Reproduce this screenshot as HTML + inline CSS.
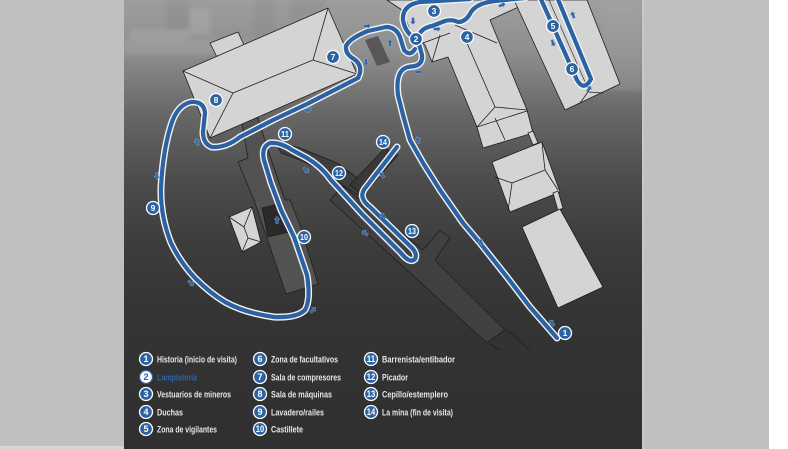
<!DOCTYPE html>
<html><head><meta charset="utf-8">
<style>
html,body{margin:0;padding:0;width:788px;height:449px;overflow:hidden;background:#fff}
svg{display:block}
</style></head><body>
<svg width="788" height="449" viewBox="0 0 788 449" xmlns="http://www.w3.org/2000/svg" font-family="'Liberation Sans', Arial, sans-serif">
<defs>
<linearGradient id="bg" x1="0" y1="0" x2="0" y2="1">
 <stop offset="0" stop-color="#9e9e9e"/>
 <stop offset="0.12" stop-color="#8d8d8d"/>
 <stop offset="0.25" stop-color="#686868"/>
 <stop offset="0.4" stop-color="#4c4c4c"/>
 <stop offset="0.55" stop-color="#3c3c3c"/>
 <stop offset="0.7" stop-color="#343434"/>
 <stop offset="1" stop-color="#2f2f2f"/>
</linearGradient>
<filter id="bl" x="-20%" y="-20%" width="140%" height="140%"><feGaussianBlur stdDeviation="2.5"/></filter>
<clipPath id="pc"><rect x="124" y="0" width="518" height="449"/></clipPath>
<g id="ar"><path d="M-3.4,-1.3 L0.6,-1.3 L0.6,-2.8 L3.6,0 L0.6,2.8 L0.6,1.3 L-3.4,1.3Z" fill="#2e67ab" stroke="#9fb6d2" stroke-width="0.4"/></g>
</defs>
<rect width="788" height="449" fill="#fff"/>
<rect width="769" height="449" fill="#c0c0c0"/>
<rect x="0" y="446" width="124" height="3" fill="#d6d6d6"/>
<rect x="124" y="0" width="518" height="449" fill="url(#bg)"/>
<rect x="642" y="0" width="2" height="449" fill="#c8c8c8"/>

<!-- photo hints -->
<g clip-path="url(#pc)" filter="url(#bl)">
<rect x="124" y="40" width="150" height="14" fill="#b0b0b0" opacity="0.35"/>
<rect x="165" y="0" width="25" height="30" fill="#7a7a7a" opacity="0.25"/>
<rect x="190" y="10" width="20" height="25" fill="#bdbdbd" opacity="0.3"/>
<rect x="255" y="0" width="20" height="40" fill="#777" opacity="0.2"/>
<rect x="290" y="0" width="35" height="20" fill="#7c7c7c" opacity="0.25"/>
<rect x="600" y="0" width="42" height="90" fill="#aaaaaa" opacity="0.3"/>
<rect x="130" y="30" width="60" height="10" fill="#bdbdbd" opacity="0.3"/>
</g>

<g stroke="#1e1e1e" stroke-width="0.8" stroke-linejoin="round">
<!-- dark buildings -->
<polygon points="241,118 258,118 268,150 285,200 290,200 300,225 318,284 286,294 254,200 238,162 248,158" fill="#525252"/>
<polygon points="262,208 282,203 289,232 268,237" fill="#2a2a2a"/>
<polygon points="275,141 300,148 337,163 360,180 358,195 347,188 327,173 300,160 281,153" fill="#3e3e3e"/>
<polygon points="330,200 343,186 423,250 440,230 450,238 435,260 505,330 487,343" fill="#404040"/>
<polyline points="507,330 530,350" fill="none"/>
<polyline points="490,344 500,350" fill="none"/>
<polygon points="385,148 398,155 363,195 350,185" fill="#383838"/>
<polygon points="365,40 378,36 390,62 377,66" fill="#575757" stroke="none"/>

<!-- light buildings -->
<polygon points="210,43 238,32 244,45 217,57" fill="#d2d2d2"/>
<polygon points="183,71 328,8 357,74 210,138" fill="#d4d4d4"/>
<polyline points="183,71 233,93 210,138" fill="none"/>
<polyline points="233,93 313,60 328,8" fill="none"/>
<polyline points="313,60 357,74" fill="none"/>

<polygon points="387,0 523,0 523,5 490,20 527,110 533,133 483,148 477,127 448,57 432,62 425,45 412,35 402,10" fill="#d4d4d4"/>
<polyline points="423,43 450,33" fill="none"/>
<polyline points="440,35 432,62" fill="none"/>
<polyline points="455,25 497,43" fill="none"/>
<polyline points="467,43 495,107 477,127" fill="none"/>
<polyline points="495,107 527,110" fill="none"/>
<polyline points="477,127 527,111" fill="none"/>
<polyline points="495,118 505,140" fill="none"/>
<polygon points="528,133 533,131 538,143 533,145" fill="#d4d4d4"/>

<polygon points="514,0 587,0 620,84 565,110" fill="#d4d4d4"/>
<polyline points="549,0 586,84" fill="none" stroke-width="0.6"/>
<polyline points="588,92 580,103" fill="none"/>
<polyline points="588,92 603,93" fill="none"/>

<polygon points="492,162 542,142 560,192 510,212" fill="#d4d4d4"/>
<polyline points="495,177 512,183 545,170 542,143" fill="none"/>
<polyline points="512,183 508,211" fill="none"/>
<polyline points="545,170 558,190" fill="none"/>
<polygon points="553,193 558,191 563,208 558,211" fill="#d4d4d4"/>
<polygon points="522,227 560,209 603,287 558,308" fill="#d4d4d4"/>

<polygon points="229,217 252,207 261,242 242,252" fill="#d4d4d4"/>
<polyline points="229,217 244,227 252,207" fill="none"/>
<polyline points="244,227 248,238 261,242" fill="none"/>
<polyline points="248,238 242,252" fill="none"/>
</g>

<!-- routes -->
<g fill="none" stroke-linecap="round" stroke-linejoin="round">
<g stroke="#f2f2f2" stroke-width="7">
<path d="M557,338 L530,307 L507,277 L480,243 L463,223 L440,190 L423,163 L410,140 L403,115 L398,95 Q395,70 408,67 L415,66 Q423,64 422,55 L419,44"/>
<path d="M417,40 Q405,33 403,20 Q402,5 420,2 L470,-1"/>
<path d="M418,37 Q421,28 432,26 L445,21 Q452,19 458,22 Q466,22 471,12 Q477,3 495,1 L525,-2"/>
<path d="M540,-3 L577,80 Q584,92 591,79 L557,-3"/>
<path d="M415,49 Q410,57 404,50 L400,37 Q396,27 386,27 L368,31 Q350,38 346,46 Q345,54 354,59 Q364,66 358,78 L307,104 L273,120 L240,137 Q226,148 212,147 Q203,144 203,132 L205,113 Q204,101 191,102 Q177,105 171,125 Q163,150 161,187 Q160,215 171,243 Q180,262 195,278 Q210,293 225,302 Q245,313 274,317 Q297,318 305,310 Q311,300 307,275 L294,237 L281,210 L271,183 L264,160 Q261,147 270,143 Q280,142 292,150 L307,158 Q322,167 331,180 L363,215 L401,253 Q410,264 415,259 Q418,253 410,246 L370,207 Q357,197 366,187 L397,147"/>
</g>
<g stroke="#2b62a3" stroke-width="4.2">
<path d="M557,338 L530,307 L507,277 L480,243 L463,223 L440,190 L423,163 L410,140 L403,115 L398,95 Q395,70 408,67 L415,66 Q423,64 422,55 L419,44"/>
<path d="M417,40 Q405,33 403,20 Q402,5 420,2 L470,-1"/>
<path d="M418,37 Q421,28 432,26 L445,21 Q452,19 458,22 Q466,22 471,12 Q477,3 495,1 L525,-2"/>
<path d="M540,-3 L577,80 Q584,92 591,79 L557,-3"/>
<path d="M415,49 Q410,57 404,50 L400,37 Q396,27 386,27 L368,31 Q350,38 346,46 Q345,54 354,59 Q364,66 358,78 L307,104 L273,120 L240,137 Q226,148 212,147 Q203,144 203,132 L205,113 Q204,101 191,102 Q177,105 171,125 Q163,150 161,187 Q160,215 171,243 Q180,262 195,278 Q210,293 225,302 Q245,313 274,317 Q297,318 305,310 Q311,300 307,275 L294,237 L281,210 L271,183 L264,160 Q261,147 270,143 Q280,142 292,150 L307,158 Q322,167 331,180 L363,215 L401,253 Q410,264 415,259 Q418,253 410,246 L370,207 Q357,197 366,187 L397,147"/>
</g>
</g>

<!-- arrows -->
<use href="#ar" transform="translate(157,176) rotate(90)"/>
<use href="#ar" transform="translate(197,142) rotate(-110)"/>
<use href="#ar" transform="translate(308,110) rotate(160)"/>
<use href="#ar" transform="translate(367,26) rotate(0)"/>
<use href="#ar" transform="translate(366,62) rotate(90)"/>
<use href="#ar" transform="translate(390,43) rotate(-90)"/>
<use href="#ar" transform="translate(413,21) rotate(90)"/>
<use href="#ar" transform="translate(437,29) rotate(0)"/>
<use href="#ar" transform="translate(418,72) rotate(0)"/>
<use href="#ar" transform="translate(502,5) rotate(-20)"/>
<use href="#ar" transform="translate(553,43) rotate(70)"/>
<use href="#ar" transform="translate(573,15) rotate(-110)"/>
<use href="#ar" transform="translate(589,89) rotate(-60)"/>
<use href="#ar" transform="translate(418,140) rotate(-110)"/>
<use href="#ar" transform="translate(481,242) rotate(-120)"/>
<use href="#ar" transform="translate(552,323) rotate(-130)"/>
<use href="#ar" transform="translate(382,175) rotate(-130)"/>
<use href="#ar" transform="translate(383,216) rotate(225)"/>
<use href="#ar" transform="translate(365,233) rotate(-140)"/>
<use href="#ar" transform="translate(306,170) rotate(45)"/>
<use href="#ar" transform="translate(277,220) rotate(-90)"/>
<use href="#ar" transform="translate(191,283) rotate(40)"/>
<use href="#ar" transform="translate(313,310) rotate(-45)"/>

<!-- map labels -->
<g font-weight="bold" font-size="8.5" text-anchor="middle" fill="#fff">
<g stroke="#fff" stroke-width="1.3" fill="#2b62a3">
<circle cx="565" cy="333" r="6.5"/>
<circle cx="416" cy="39" r="6.5"/>
<circle cx="434" cy="11" r="6.5"/>
<circle cx="467" cy="37" r="6.5"/>
<circle cx="553" cy="26" r="6.5"/>
<circle cx="572" cy="69" r="6.5"/>
<circle cx="333" cy="57" r="6.5"/>
<circle cx="216" cy="100" r="6.5"/>
<circle cx="153" cy="208" r="6.5"/>
<circle cx="304" cy="237" r="6.5"/>
<circle cx="285" cy="134" r="6.5"/>
<circle cx="339" cy="173" r="6.5"/>
<circle cx="412" cy="231" r="6.5"/>
<circle cx="383" cy="142" r="6.5"/>
</g>
<text x="565" y="336">1</text>
<text x="416" y="42">2</text>
<text x="434" y="14">3</text>
<text x="467" y="40">4</text>
<text x="553" y="29">5</text>
<text x="572" y="72">6</text>
<text x="333" y="60">7</text>
<text x="216" y="103">8</text>
<text x="153" y="211">9</text>
<text x="304" y="240" textLength="8" lengthAdjust="spacingAndGlyphs">10</text>
<text x="285" y="137" textLength="8" lengthAdjust="spacingAndGlyphs">11</text>
<text x="339" y="176" textLength="8" lengthAdjust="spacingAndGlyphs">12</text>
<text x="412" y="234" textLength="8" lengthAdjust="spacingAndGlyphs">13</text>
<text x="383" y="145" textLength="8" lengthAdjust="spacingAndGlyphs">14</text>
</g>

<!-- legend -->
<g stroke="#fff" stroke-width="1.3" fill="#2b62a3">
<circle cx="146" cy="359" r="6.5"/>
<circle cx="146" cy="377" r="6.5" fill="#fff" stroke="#2b62a3"/>
<circle cx="146" cy="394" r="6.5"/>
<circle cx="146" cy="412" r="6.5"/>
<circle cx="146" cy="429" r="6.5"/>
<circle cx="260" cy="359" r="6.5"/>
<circle cx="260" cy="377" r="6.5"/>
<circle cx="260" cy="394" r="6.5"/>
<circle cx="260" cy="412" r="6.5"/>
<circle cx="260" cy="429" r="6.5"/>
<circle cx="371" cy="359" r="6.5"/>
<circle cx="371" cy="377" r="6.5"/>
<circle cx="371" cy="394" r="6.5"/>
<circle cx="371" cy="412" r="6.5"/>
</g>
<g font-weight="bold" font-size="9" text-anchor="middle" fill="#fff">
<text x="146" y="362">1</text>
<text x="146" y="380" fill="#2b62a3">2</text>
<text x="146" y="397">3</text>
<text x="146" y="415">4</text>
<text x="146" y="432">5</text>
<text x="260" y="362">6</text>
<text x="260" y="380">7</text>
<text x="260" y="397">8</text>
<text x="260" y="415">9</text>
<text x="260" y="432" textLength="8.5" lengthAdjust="spacingAndGlyphs">10</text>
<text x="371" y="362" textLength="8.5" lengthAdjust="spacingAndGlyphs">11</text>
<text x="371" y="380" textLength="8.5" lengthAdjust="spacingAndGlyphs">12</text>
<text x="371" y="397" textLength="8.5" lengthAdjust="spacingAndGlyphs">13</text>
<text x="371" y="415" textLength="8.5" lengthAdjust="spacingAndGlyphs">14</text>
</g>
<g font-weight="bold" font-size="9.3" fill="#e6e6e6">
<text x="157" y="362.5" textLength="80" lengthAdjust="spacingAndGlyphs">Historia (inicio de visita)</text>
<text x="157" y="380.5" textLength="40" lengthAdjust="spacingAndGlyphs" fill="#2f64a6">Lampistería</text>
<text x="157" y="397.5" textLength="74" lengthAdjust="spacingAndGlyphs">Vestuarios de mineros</text>
<text x="157" y="415.5" textLength="26" lengthAdjust="spacingAndGlyphs">Duchas</text>
<text x="157" y="432.5" textLength="60" lengthAdjust="spacingAndGlyphs">Zona de vigilantes</text>
<text x="271" y="362.5" textLength="67" lengthAdjust="spacingAndGlyphs">Zona de facultativos</text>
<text x="271" y="380.5" textLength="70" lengthAdjust="spacingAndGlyphs">Sala de compresores</text>
<text x="271" y="397.5" textLength="61" lengthAdjust="spacingAndGlyphs">Sala de máquinas</text>
<text x="271" y="415.5" textLength="53" lengthAdjust="spacingAndGlyphs">Lavadero/railes</text>
<text x="271" y="432.5" textLength="32" lengthAdjust="spacingAndGlyphs">Castillete</text>
<text x="382" y="362.5" textLength="73" lengthAdjust="spacingAndGlyphs">Barrenista/entibador</text>
<text x="382" y="380.5" textLength="26" lengthAdjust="spacingAndGlyphs">Picador</text>
<text x="382" y="397.5" textLength="66" lengthAdjust="spacingAndGlyphs">Cepillo/estemplero</text>
<text x="382" y="415.5" textLength="71" lengthAdjust="spacingAndGlyphs">La mina (fin de visita)</text>
</g>
</svg>
</body></html>
